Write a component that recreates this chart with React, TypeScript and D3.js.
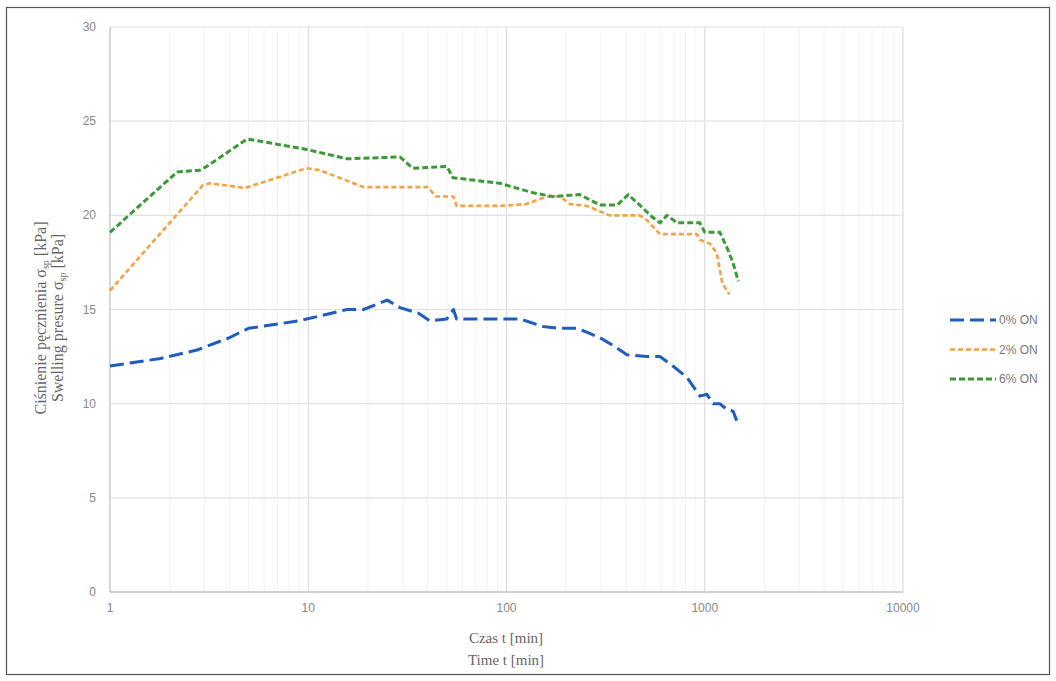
import * as d3 from 'd3';
import { useEffect, useRef } from 'react';

// czas [min] / wartości [kPa]
const t0 = [1, 1.8, 2.75, 4, 5, 9, 15.7, 19, 25, 29, 36, 41, 50, 54, 56, 93, 117, 153, 186, 226, 254, 296, 344, 405, 510, 594, 691, 813, 945, 1025, 1100, 1190, 1290, 1390, 1450];
const v0 = [12, 12.4, 12.85, 13.5, 14, 14.4, 15, 15, 15.5, 15.1, 14.8, 14.4, 14.5, 15, 14.5, 14.5, 14.5, 14.1, 14, 14, 13.8, 13.5, 13.1, 12.6, 12.5, 12.5, 12, 11.4, 10.4, 10.5, 10, 10, 9.7, 9.6, 9.1];

const t2 = [1, 2.94, 3.2, 4.8, 9.8, 11.4, 19, 40, 44, 54, 56, 93, 126, 160, 186, 209, 254, 331, 469, 510, 594, 912, 945, 1060, 1150, 1225, 1330];
const v2 = [16, 21.6, 21.7, 21.45, 22.5, 22.4, 21.5, 21.5, 21.0, 21.0, 20.5, 20.5, 20.6, 21.0, 21.0, 20.6, 20.5, 20, 20, 19.75, 19, 19, 18.7, 18.5, 18, 16.4, 15.8];

const t6 = [1, 2.18, 2.84, 3.08, 4.91, 5.27, 9.8, 15.7, 29, 33.7, 50, 53.7, 92.6, 136, 171, 234, 296, 362, 411, 469, 545, 594, 645, 726, 945, 1000, 1192, 1292, 1386, 1477];
const v6 = [19.1, 22.3, 22.4, 22.6, 24.05, 24, 23.5, 23.0, 23.1, 22.5, 22.6, 22.0, 21.7, 21.2, 21.0, 21.1, 20.55, 20.55, 21.1, 20.55, 19.9, 19.6, 20.0, 19.6, 19.6, 19.1, 19.1, 18.3, 17.5, 16.5];

const seriesNames = ['0% ON', '2% ON', '6% ON'];
const xTicks = [1, 10, 100, 1000, 10000];
const yTicks = [0, 5, 10, 15, 20, 25, 30];

const series = [
    { name: seriesNames[0], t: t0, v: v0, color: '#1f5cc0', dash: '14,6', width: 3 },
    { name: seriesNames[1], t: t2, v: v2, color: '#f4a244', dash: '5,3', width: 2.6 },
    { name: seriesNames[2], t: t6, v: v6, color: '#3a9a36', dash: '6,3', width: 3 },
];

const App = () => {
    const svgRef = useRef<SVGSVGElement>(null);

    useEffect(() => {
        const svg = d3.select(svgRef.current);
        const x = d3.scaleLog().domain([1, 10000]).range([110, 903]);
        const y = d3.scaleLinear().domain([0, 30]).range([592, 27]);

        svg.append('rect')
            .attr('x', 6.5).attr('y', 7.5).attr('width', 1043).attr('height', 667)
            .attr('fill', '#fff').attr('stroke', '#555').attr('stroke-width', 1.2);

        // minor vertical grid
        const minor: number[] = [];
        for (let d = 1; d < 10000; d *= 10) for (let k = 2; k < 10; k++) minor.push(d * k);
        svg.append('g').selectAll('line').data(minor).enter().append('line')
            .attr('x1', d => x(d)).attr('x2', d => x(d))
            .attr('y1', y(30)).attr('y2', y(0))
            .attr('stroke', '#f2f2f2').attr('stroke-width', 1);

        svg.append('g').selectAll('line').data(xTicks.slice(1)).enter().append('line')
            .attr('x1', d => x(d)).attr('x2', d => x(d))
            .attr('y1', y(30)).attr('y2', y(0))
            .attr('stroke', '#dcdcdc').attr('stroke-width', 1.2);

        svg.append('g').selectAll('line').data(yTicks.slice(1)).enter().append('line')
            .attr('x1', x(1)).attr('x2', x(10000))
            .attr('y1', d => y(d)).attr('y2', d => y(d))
            .attr('stroke', '#e2e2e2').attr('stroke-width', 1.2);

        // axes lines
        svg.append('line').attr('x1', x(1)).attr('x2', x(1)).attr('y1', y(30)).attr('y2', y(0))
            .attr('stroke', '#c8c8c8').attr('stroke-width', 1.5);
        svg.append('line').attr('x1', x(1)).attr('x2', x(10000)).attr('y1', y(0)).attr('y2', y(0))
            .attr('stroke', '#c0c0c0').attr('stroke-width', 1.5);

        svg.append('g').selectAll('text').data(yTicks).enter().append('text')
            .attr('x', 96).attr('y', d => y(d) + 4)
            .attr('text-anchor', 'end')
            .attr('font-family', 'Liberation Sans, Arial, sans-serif')
            .attr('font-size', 12).attr('fill', '#888')
            .text(d => d);

        svg.append('g').selectAll('text').data(xTicks).enter().append('text')
            .attr('x', d => x(d)).attr('y', 612)
            .attr('text-anchor', 'middle')
            .attr('font-family', 'Liberation Sans, Arial, sans-serif')
            .attr('font-size', 12).attr('fill', '#888')
            .text(d => d);

        const serif = 'Liberation Serif, Times New Roman, serif';
        svg.append('text').attr('x', 506).attr('y', 643).attr('text-anchor', 'middle')
            .attr('font-family', serif).attr('font-size', 15).attr('fill', '#666')
            .text('Czas t [min]');
        svg.append('text').attr('x', 506).attr('y', 665).attr('text-anchor', 'middle')
            .attr('font-family', serif).attr('font-size', 15).attr('fill', '#666')
            .text('Time t [min]');

        const titles = ['Ciśnienie pęcznienia σ', 'Swelling presure σ'];
        titles.forEach((label, i) => {
            const yt = svg.append('text')
                .attr('transform', `translate(${46 + i * 17},318) rotate(-90)`)
                .attr('text-anchor', 'middle')
                .attr('font-family', serif).attr('font-size', 16).attr('fill', '#666');
            yt.append('tspan').text(label);
            yt.append('tspan').attr('font-size', 10).attr('dy', 3).text('sp');
            yt.append('tspan').attr('dy', -3).text(' [kPa]');
        });

        const line = d3.line<[number, number]>().x(d => x(d[0])).y(d => y(d[1]));
        series.forEach(s => {
            svg.append('path')
                .datum(s.t.map((t, i) => [t, s.v[i]] as [number, number]))
                .attr('d', line)
                .attr('fill', 'none')
                .attr('stroke', s.color)
                .attr('stroke-width', s.width)
                .attr('stroke-dasharray', s.dash)
                .attr('stroke-linejoin', 'round');
        });

        const legend = svg.append('g').selectAll('g').data(series).enter().append('g')
            .attr('transform', (d, i) => `translate(950,${320 + i * 29.5})`);
        legend.append('line').attr('x1', 0).attr('x2', 46).attr('y1', 0).attr('y2', 0)
            .attr('stroke', d => d.color).attr('stroke-width', d => d.width)
            .attr('stroke-dasharray', d => d.dash);
        legend.append('text').attr('x', 49).attr('y', 4)
            .attr('font-family', 'Liberation Sans, Arial, sans-serif')
            .attr('font-size', 12).attr('fill', '#777')
            .text(d => d.name);

        return () => {
            svg.selectAll('*').remove();
        };
    }, []);

    return (
        <div style={{ position: 'absolute', left: 0, top: 0 }}>
            <svg ref={svgRef} width={1056} height={681} style={{ display: 'block' }}></svg>
        </div>
    );
};

export default App;
